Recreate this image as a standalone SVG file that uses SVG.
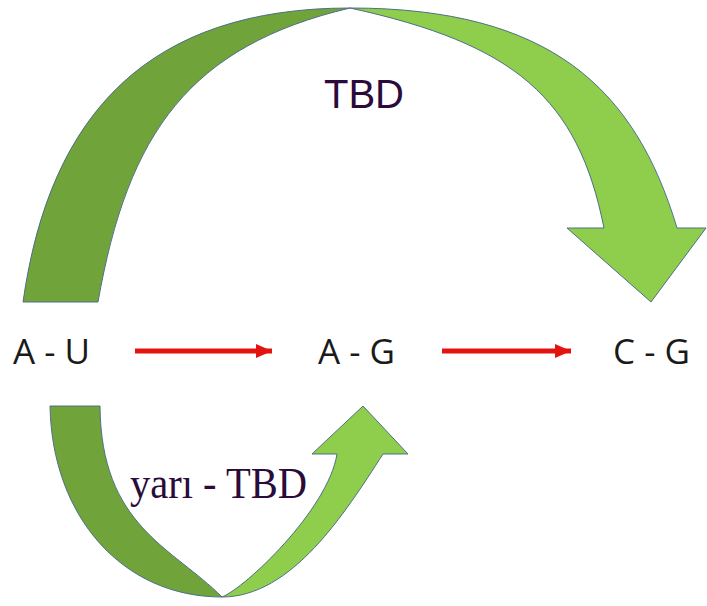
<svg xmlns="http://www.w3.org/2000/svg" width="707" height="606" viewBox="0 0 707 606">
  <style>
    .pair { font-family: "Open Sans", "Liberation Sans", sans-serif; font-size: 35px; fill: #1a1a1a; }
    .back { fill: #70a43b; stroke: #4f6f86; stroke-width: 1; }
    .front { fill: #8fce4c; stroke: #4f6f86; stroke-width: 1; }
    .flow { stroke: #e3140f; stroke-width: 5; fill: none; }
    .lbl-sans { font-family: "Liberation Sans", Arial, sans-serif; font-size: 40px; fill: #2a0b3a; }
    .lbl-serif { font-family: "Liberation Serif", "Times New Roman", serif; font-size: 44px; fill: #2a0b3a; }
  </style>
  <defs>
    <marker id="redHead" markerUnits="userSpaceOnUse" markerWidth="18" markerHeight="16" refX="16" refY="8" orient="auto">
      <path d="M0,1 L16,8 L0,15 Z" fill="#e3140f"/>
    </marker>
  </defs>

  <rect width="707" height="606" fill="#ffffff"/>

  <g id="connectors">
    <!-- straight transitions -->
    <line class="flow" x1="135" y1="351" x2="272" y2="351" marker-end="url(#redHead)"/>
    <line class="flow" x1="442" y1="351" x2="571" y2="351" marker-end="url(#redHead)"/>

    <!-- large curved arrow over the top: A - U to C - G -->
    <g id="arc-top">
      <path class="back" d="M23,302 C50,112 150,8 350,8 C190,46 128,132 98,302 Z"/>
      <path class="front" d="M350,8 C550,8 635,88 677,228 L706,228 L651,302 L567,228 L604,228 C578,98 515,44 350,8 Z"/>
      <text class="lbl-sans" x="364" y="108" text-anchor="middle">TBD</text>
    </g>

    <!-- small curved arrow underneath: A - U to A - G -->
    <g id="arc-bottom">
      <path class="back" d="M50,406 C52,516 122,597 222,597 C172,547 101,526 100,406 Z"/>
      <path class="front" d="M222,597 C292,597 345,513 383,454 L408,454 L363,406 L312,454 L337,454 C328,510 245,588 222,597 Z"/>
      <text class="lbl-serif" x="130" y="498" textLength="177" lengthAdjust="spacingAndGlyphs">yarı - TBD</text>
    </g>
  </g>

  <g id="node-au">
    <text class="pair" x="13" y="364">A - U</text>
  </g>
  <g id="node-ag">
    <text class="pair" x="318" y="364">A - G</text>
  </g>
  <g id="node-cg">
    <text class="pair" x="613" y="364">C - G</text>
  </g>
</svg>
